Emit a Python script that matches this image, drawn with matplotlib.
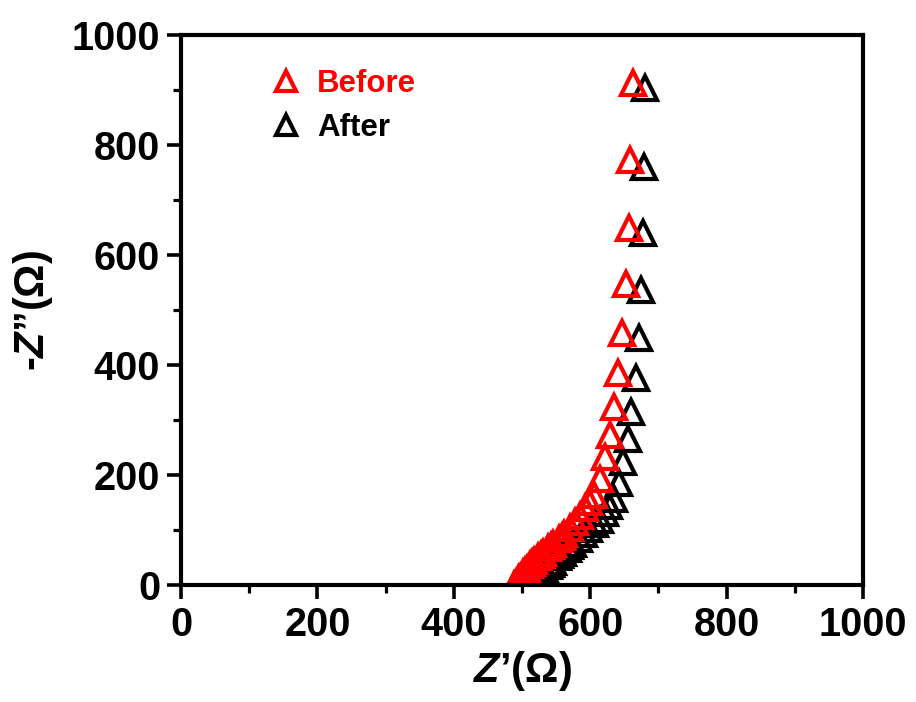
import matplotlib
matplotlib.use("Agg")
import matplotlib.pyplot as plt
from matplotlib.ticker import MultipleLocator

# Impedance spectra (Nyquist plot), values in ohm
before_zre = [488, 489, 491, 494, 496, 498, 502, 505, 507, 512, 515, 518, 524, 528, 531, 538, 542,
              546, 554, 558, 562, 570, 578, 585, 592, 599, 606, 614, 622, 629, 635, 641,
              647, 652, 657, 659, 663]
before_zim = [-2, 0, 4, 9, 12, 15, 22, 26, 29, 36, 40, 43, 51, 55, 59, 67, 71,
              75, 84, 88, 93, 103, 114, 126, 140, 150, 163, 192, 232, 273, 323, 386,
              459, 548, 650, 773, 912]

after_zre = [515, 516, 518, 521, 523, 525, 529, 532, 534, 540, 543, 546, 553, 556, 560, 567, 571,
             575, 583, 591, 599, 607, 614, 621, 628, 635, 642, 648, 656, 660, 667, 672,
             674, 677, 679, 680]
after_zim = [-2, 0, 4, 9, 12, 15, 21, 25, 28, 35, 39, 42, 50, 54, 58, 66, 70,
             75, 84, 93, 102, 110, 118, 130, 143, 157, 185, 224, 266, 315, 376, 449,
             536, 640, 760, 904]

ticks = [0, 200, 400, 600, 800, 1000]

plt.rcParams['font.family'] = ['Liberation Sans', 'DejaVu Sans']
plt.rcParams['font.weight'] = 'bold'
plt.rcParams['mathtext.fontset'] = 'custom'
plt.rcParams['mathtext.it'] = 'Liberation Sans:italic:bold'
plt.rcParams['mathtext.rm'] = 'Liberation Sans:bold'
plt.rcParams['mathtext.bf'] = 'Liberation Sans:bold'

fig = plt.figure(figsize=(9.16, 7.02), dpi=100)
ax = fig.add_axes([0.1976, 0.1667, 0.7445, 0.7833])

mk = dict(marker='^', linestyle='none', markersize=17, markeredgewidth=3.0,
          markerfacecolor='none', clip_on=True)
ax.plot(after_zre, after_zim, markeredgecolor='black', label='After', **mk)
ax.plot(before_zre, before_zim, markeredgecolor='#ff0000', label='Before', **mk)

ax.set_xlim(0, 1000)
ax.set_ylim(0, 1000)
ax.set_xticks(ticks)
ax.set_yticks(ticks)
ax.xaxis.set_minor_locator(MultipleLocator(100))
ax.yaxis.set_minor_locator(MultipleLocator(100))

for s in ax.spines.values():
    s.set_linewidth(3.0)
ax.tick_params(which='major', direction='out', length=10, width=2.6,
               labelsize=28.5, pad=5, top=False, right=False)
ax.tick_params(which='minor', direction='out', length=6, width=2.3,
               top=False, right=False)
for lab in ax.get_xticklabels() + ax.get_yticklabels():
    lab.set_fontweight('bold')

ax.set_xlabel(r"$\mathit{Z}$’(Ω)", fontsize=30, fontweight='bold', labelpad=4)
ax.set_ylabel(r"-$\mathit{Z}$”(Ω)", fontsize=30, fontweight='bold', labelpad=12)

handles, labels = ax.get_legend_handles_labels()
leg = ax.legend(handles[::-1], labels[::-1], loc='upper left',
                bbox_to_anchor=(0.085, 0.99), frameon=False,
                prop={'size': 22.5, 'weight': 'bold'}, handletextpad=0.4,
                labelspacing=0.45, handlelength=1.2, markerscale=0.85)
for txt, col in zip(leg.get_texts(), ['#ff0000', 'black']):
    txt.set_color(col)

fig.savefig('out.png', dpi=100)
